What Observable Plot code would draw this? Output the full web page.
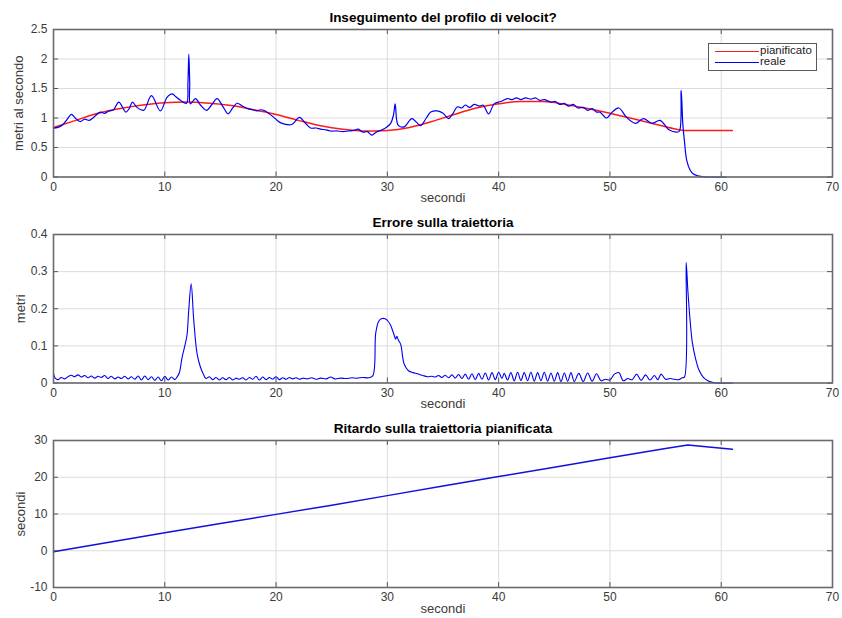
<!DOCTYPE html>
<html>
<head>
<meta charset="utf-8">
<script src="https://cdn.jsdelivr.net/npm/d3@7"></script>
<script src="https://cdn.jsdelivr.net/npm/@observablehq/plot@0.6"></script>
<style>
  body { margin: 0; background: #fff; }
  #fig { position: relative; width: 842px; height: 618px; background: #fff;
         font-family: "Liberation Sans", Arial, Helvetica, sans-serif; }
  #fig svg { display: block; }
  .legend { position: absolute; left: 708px; top: 43px; width: 109px; height: 28px;
            border: 1.5px solid #5a5a5a; background: #fff; box-sizing: border-box; }
  .legend .sw { position: absolute; left: 6px; width: 44px; height: 0; border-top: 1.6px solid; }
  .legend .lb { position: absolute; left: 51px; font-size: 11.5px; line-height: 11px; color: #222; }
</style>
</head>
<body>
<div id="fig"></div>
<script>
// Axis ticks
const xTicks = [0, 10, 20, 30, 40, 50, 60, 70];
const speedTicks = [0, 0.5, 1, 1.5, 2, 2.5];
const errTicks = [0, 0.1, 0.2, 0.3, 0.4];
const delayTicks = [-10, 0, 10, 20, 30];

// Planned speed profile [s, m/s]
const planned = [
  [0, 0.84], [2, 0.96], [4, 1.08], [6, 1.16], [8, 1.22], [10, 1.26], [12, 1.27], [14, 1.25],
  [16, 1.21], [18, 1.14], [20, 1.06], [22, 0.96], [24, 0.87], [26, 0.81], [28, 0.78], [30, 0.79],
  [32, 0.84], [34, 0.94], [36, 1.06], [38, 1.17], [40, 1.24], [42, 1.28], [44, 1.28], [46, 1.23],
  [48, 1.16], [50, 1.08], [52, 0.99], [54, 0.9], [56, 0.81], [56.6, 0.79], [61, 0.79]
];

// Measured speed [s, m/s]
const real = [
  [0, 0.83], [0.4, 0.84], [0.8, 0.88], [1.2, 0.97], [1.6, 1.06], [2.0, 0.99], [2.4, 0.94], [2.8, 0.98],
  [3.2, 0.96], [3.6, 1.01], [4.2, 1.1], [4.6, 1.08], [5.0, 1.12], [5.4, 1.14], [5.87, 1.27], [6.5, 1.1],
  [6.8, 1.16], [7.1, 1.27], [7.5, 1.18], [8.1, 1.13], [8.8, 1.38], [9.6, 1.12], [10.2, 1.35], [10.66, 1.41],
  [11.0, 1.36], [11.4, 1.3], [11.95, 1.25], [12.08, 1.6], [12.16, 2.08], [12.24, 1.6], [12.3, 1.24],
  [12.76, 1.33], [13.2, 1.22], [13.75, 1.13], [14.2, 1.22], [14.7, 1.33], [15.2, 1.2], [15.7, 1.07],
  [16.1, 1.17], [16.5, 1.25], [17.0, 1.2], [17.4, 1.16], [17.9, 1.14], [18.3, 1.12], [18.6, 1.14],
  [19.0, 1.12], [19.4, 1.07], [19.8, 1.01], [20.3, 0.93], [20.7, 0.9], [21.4, 0.89], [22.1, 1.01],
  [22.6, 0.92], [23.1, 0.83], [23.6, 0.83], [24.0, 0.81], [24.5, 0.8], [24.9, 0.78], [25.5, 0.78],
  [26.0, 0.77], [26.5, 0.78], [27.0, 0.79], [27.4, 0.81], [27.8, 0.76], [28.2, 0.77], [28.6, 0.71],
  [29.0, 0.76], [29.4, 0.79], [29.9, 0.84], [30.3, 0.91], [30.55, 1.05], [30.7, 1.24], [30.85, 0.95],
  [31.0, 0.87], [31.5, 0.85], [32.2, 0.99], [32.6, 0.93], [33.0, 0.87], [33.5, 1.0], [33.9, 1.1],
  [34.5, 1.12], [35.0, 1.08], [35.5, 0.99], [35.9, 1.08], [36.3, 1.19], [36.7, 1.17], [37.0, 1.22],
  [37.4, 1.18], [37.8, 1.23], [38.3, 1.2], [38.6, 1.22], [39.1, 1.07], [39.6, 1.24], [40.2, 1.28],
  [40.8, 1.33], [41.2, 1.31], [41.6, 1.34], [42.0, 1.31], [42.4, 1.34], [42.9, 1.32], [43.3, 1.34],
  [43.7, 1.3], [44.1, 1.31], [44.7, 1.27], [45.1, 1.28], [45.5, 1.23], [45.9, 1.25], [46.3, 1.2],
  [46.7, 1.23], [47.1, 1.17], [47.6, 1.18], [48.0, 1.13], [48.4, 1.16], [48.8, 1.1], [49.1, 1.1],
  [49.7, 1.0], [50.2, 1.1], [50.8, 1.17], [51.5, 1.01], [52.3, 0.91], [53.0, 0.99], [53.8, 0.91],
  [54.5, 0.96], [55.3, 0.8], [56.0, 0.76], [56.25, 0.78], [56.4, 1.47], [56.55, 0.9], [56.7, 0.6],
  [56.9, 0.28], [57.2, 0.12], [57.5, 0.05], [57.9, 0.02], [58.5, 0.003], [59, 0], [60.4, 0]
];

// Trajectory error [s, m]
const trackError = [
  [0, 0.025], [0.15, 0.013], [0.4, 0.009], [0.7, 0.015], [1.0, 0.011], [1.3, 0.017], [1.6, 0.021],
  [1.9, 0.017], [2.2, 0.022], [2.5, 0.016], [2.8, 0.02], [3.1, 0.014], [3.4, 0.019], [3.7, 0.013],
  [4.0, 0.018], [4.3, 0.015], [4.6, 0.02], [4.9, 0.012], [5.2, 0.018], [5.5, 0.011], [5.8, 0.016],
  [6.1, 0.012], [6.4, 0.018], [6.7, 0.011], [7.0, 0.017], [7.3, 0.01], [7.6, 0.019], [7.9, 0.008],
  [8.2, 0.019], [8.5, 0.009], [8.8, 0.017], [9.1, 0.007], [9.4, 0.016], [9.7, 0.006], [10.0, 0.018],
  [10.3, 0.008], [10.6, 0.016], [10.9, 0.009], [11.1, 0.016], [11.3, 0.027], [11.56, 0.07], [11.8, 0.1],
  [12.0, 0.13], [12.15, 0.195], [12.37, 0.267], [12.6, 0.17], [12.9, 0.079], [13.2, 0.043], [13.45, 0.025],
  [13.7, 0.012], [14.0, 0.017], [14.3, 0.009], [14.6, 0.015], [14.9, 0.008], [15.2, 0.014], [15.5, 0.009],
  [15.8, 0.015], [16.1, 0.008], [16.4, 0.013], [16.7, 0.01], [17.0, 0.014], [17.3, 0.008], [17.6, 0.015],
  [17.9, 0.01], [18.2, 0.018], [18.5, 0.008], [18.8, 0.016], [19.1, 0.009], [19.4, 0.015], [19.7, 0.01],
  [20.0, 0.017], [20.3, 0.009], [20.6, 0.014], [20.9, 0.01], [21.2, 0.015], [21.5, 0.011], [21.8, 0.014],
  [22.1, 0.01], [22.4, 0.013], [22.8, 0.011], [23.2, 0.014], [23.6, 0.01], [24.0, 0.013], [24.5, 0.011],
  [24.9, 0.016], [25.3, 0.011], [25.8, 0.013], [26.3, 0.012], [26.8, 0.014], [27.3, 0.013], [27.8, 0.015],
  [28.3, 0.014], [28.7, 0.02], [28.95, 0.133], [29.2, 0.165], [29.45, 0.173], [29.8, 0.173], [30.05, 0.167],
  [30.3, 0.155], [30.6, 0.13], [30.75, 0.118], [30.85, 0.126], [31.0, 0.115], [31.2, 0.104], [31.5, 0.052],
  [31.9, 0.033], [32.3, 0.028], [32.7, 0.025], [33.2, 0.02], [33.6, 0.017], [34.0, 0.018], [34.3, 0.016],
  [34.6, 0.02], [34.9, 0.015], [35.2, 0.021], [35.5, 0.014], [35.8, 0.022], [36.1, 0.013], [36.4, 0.023],
  [36.7, 0.012], [37.0, 0.024], [37.3, 0.01], [37.6, 0.025], [37.9, 0.009], [38.2, 0.026], [38.5, 0.01],
  [38.8, 0.027], [39.1, 0.008], [39.4, 0.028], [39.7, 0.009], [40.0, 0.029], [40.3, 0.012], [40.5, 0.026],
  [40.8, 0.008], [41.1, 0.028], [41.4, 0.006], [41.7, 0.029], [42.0, 0.007], [42.3, 0.028], [42.6, 0.006],
  [42.9, 0.029], [43.2, 0.005], [43.5, 0.028], [43.8, 0.006], [44.1, 0.029], [44.4, 0.005], [44.7, 0.027],
  [45.0, 0.005], [45.3, 0.028], [45.6, 0.004], [45.9, 0.027], [46.2, 0.005], [46.5, 0.028], [46.8, 0.004],
  [47.2, 0.026], [47.6, 0.004], [48.0, 0.027], [48.4, 0.005], [48.8, 0.025], [49.2, 0.006], [49.6, 0.01],
  [50.0, 0.008], [50.4, 0.024], [50.8, 0.028], [51.2, 0.006], [51.6, 0.012], [52.0, 0.009], [52.4, 0.024],
  [52.8, 0.007], [53.2, 0.022], [53.6, 0.008], [54.0, 0.02], [54.3, 0.009], [54.6, 0.024], [55.0, 0.01],
  [55.4, 0.012], [55.8, 0.01], [56.2, 0.009], [56.5, 0.014], [56.7, 0.016], [56.85, 0.325], [57.0, 0.25],
  [57.2, 0.17], [57.4, 0.11], [57.7, 0.065], [58.0, 0.035], [58.4, 0.015], [58.8, 0.006], [59.3, 0.001], [61, 0]
];

// Delay on the planned trajectory [s, s]
const delay = [
  [0, -0.3], [5, 2.3], [10, 4.9], [15, 7.4], [20, 9.9], [25, 12.4], [30, 15.0], [35, 17.6],
  [40, 20.2], [45, 22.7], [50, 25.3], [55, 27.8], [57, 28.8], [61, 27.6]
];

const FONT = '"Liberation Sans", Arial, Helvetica, sans-serif';
const W = 842, ML = 53, MR = 10;

function panel({title, ylabel, ylabelDx, yDomain, yTicks, lines, height, marginTop, marginBottom}) {
  const innerH = height - marginTop - marginBottom;
  const innerW = W - ML - MR;
  const fmt = d => String(d);
  return Plot.plot({
    width: W, height,
    marginLeft: ML, marginRight: MR, marginTop, marginBottom,
    style: {fontFamily: FONT, fontSize: "12px", color: "#3a3a3a", background: "#fff", overflow: "visible"},
    x: {domain: [0, 70], label: null},
    y: {domain: yDomain, label: null},
    marks: [
      Plot.gridX(xTicks, {stroke: "#dcdcdc", strokeOpacity: 1}),
      Plot.gridY(yTicks, {stroke: "#dcdcdc", strokeOpacity: 1}),
      ...lines,
      // inward ticks on all four sides
      Plot.tickX(xTicks, {x: d => d, insetTop: innerH - 5, stroke: "#555"}),
      Plot.tickX(xTicks, {x: d => d, insetBottom: innerH - 5, stroke: "#555"}),
      Plot.tickY(yTicks, {y: d => d, insetRight: innerW - 5, stroke: "#555"}),
      Plot.tickY(yTicks, {y: d => d, insetLeft: innerW - 5, stroke: "#555"}),
      Plot.frame({stroke: "#6a6a6a", strokeWidth: 1.6}),
      Plot.axisX(xTicks, {tickSize: 0, tickPadding: 5, tickFormat: fmt, label: null}),
      Plot.axisY(yTicks, {tickSize: 0, tickPadding: 6, tickFormat: fmt, label: null}),
      Plot.text([title], {text: d => d, frameAnchor: "top", dy: -12, lineAnchor: "middle",
        fontWeight: "bold", fontSize: 13.5, fill: "#000"}),
      Plot.text(["secondi"], {text: d => d, frameAnchor: "bottom", dy: 21, lineAnchor: "middle",
        fontSize: 13, fill: "#3a3a3a"}),
      Plot.text([ylabel], {text: d => d, frameAnchor: "left", dx: ylabelDx, rotate: -90,
        textAnchor: "middle", lineAnchor: "middle", fontSize: 13, fill: "#3a3a3a"})
    ]
  });
}

const toRows = arr => arr.map(([t, v]) => ({t, v}));

const fig = document.getElementById("fig");

fig.append(panel({
  title: "Inseguimento del profilo di velocit?",
  ylabel: "metri al secondo", ylabelDx: -35,
  yDomain: [0, 2.5], yTicks: speedTicks,
  height: 206, marginTop: 29, marginBottom: 29.5,
  lines: [
    Plot.line(toRows(planned), {x: "t", y: "v", stroke: "#ff1a1a", strokeWidth: 1.5, curve: "monotone-x"}),
    Plot.line(toRows(real), {x: "t", y: "v", stroke: "#0000f0", strokeWidth: 1.2, curve: "catmull-rom"})
  ]
}));

fig.append(panel({
  title: "Errore sulla traiettoria",
  ylabel: "metri", ylabelDx: -33,
  yDomain: [0, 0.4], yTicks: errTicks,
  height: 206, marginTop: 28, marginBottom: 29.5,
  lines: [
    Plot.line(toRows(trackError), {x: "t", y: "v", stroke: "#0000f0", strokeWidth: 1.1, curve: "catmull-rom"})
  ]
}));

fig.append(panel({
  title: "Ritardo sulla traiettoria pianificata",
  ylabel: "secondi", ylabelDx: -33,
  yDomain: [-10, 30], yTicks: delayTicks,
  height: 206, marginTop: 28, marginBottom: 31,
  lines: [
    Plot.line(toRows(delay), {x: "t", y: "v", stroke: "#1010e0", strokeWidth: 1.5})
  ]
}));

// legend for the speed panel
const legend = document.createElement("div");
legend.className = "legend";
legend.innerHTML =
  '<div class="sw" style="top:7px;border-color:#ff1a1a"></div><div class="lb" style="top:1px">pianificato</div>' +
  '<div class="sw" style="top:18px;border-color:#0000f0"></div><div class="lb" style="top:12px">reale</div>';
fig.append(legend);
</script>
</body>
</html>
